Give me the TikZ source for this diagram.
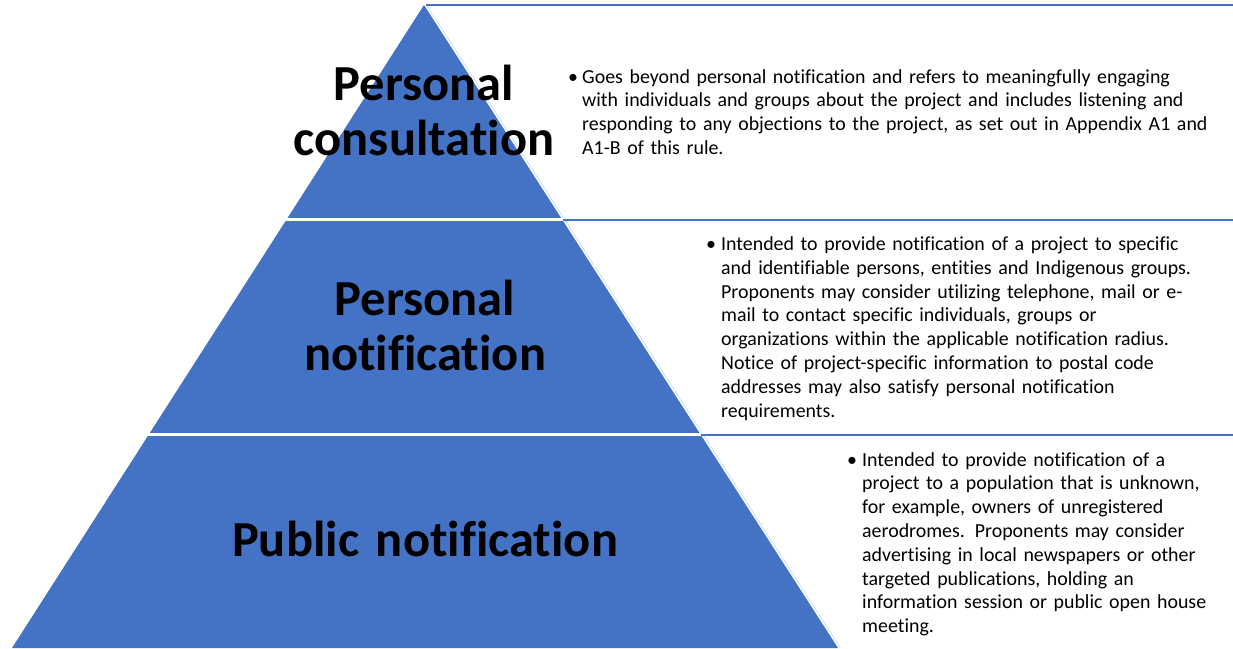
\documentclass[tikz,border=0pt]{standalone}
\usepackage{fontspec}
\setmainfont{Carlito}[Ligatures=NoCommon]
\definecolor{pyrblue}{HTML}{4472C4}
\begin{document}
\begin{tikzpicture}[x=1pt, y=-1pt, line join=round,
	level/.style={font=\fontsize{50.5}{55}\selectfont\bfseries, text width=440pt, align=center, anchor=base, inner sep=0},
	note/.style={font=\fontsize{19.9}{23.8}\selectfont, text width=700pt, align=left, anchor=base west, inner sep=0},
	dot/.style={font=\fontsize{19.9}{23.8}\selectfont, anchor=base, inner sep=0}]
	\useasboundingbox (0,0) rectangle (1233,648);
	\coordinate (top) at (424,5);
	\coordinate (bl) at (12,648);
	\coordinate (br) at (838,648);
	\fill[pyrblue] (top) -- (bl) -- (br) -- cycle;
	\draw[pyrblue!30, line width=0.6pt] ([xshift=2.5pt]top) -- ([xshift=2.5pt]br);
	% cuts between the three levels
	\draw[white, line width=2.5pt] (0,219.5) -- (700,219.5) (0,434.5) -- (840,434.5);
	% rules to the right
	\coordinate (r0) at (426,5);   \coordinate (e0) at (1233,5);
	\coordinate (r1) at (563,220); \coordinate (e1) at (1233,220);
	\coordinate (r2) at (701,435); \coordinate (e2) at (1233,435);
	\draw[pyrblue, line width=2pt] (r0) -- (e0);
	\draw[pyrblue, line width=2.5pt] (r1) -- (e1) (r2) -- (e2);
	% levels
	\node[level] (consult) at (424,100) {Personal\\consultation};
	\node[level] (pnotif) at (425,315.5) {Personal\\notification};
	\node[level] (pubnotif) at (425,556.5) {Public notification};
	% notes
	\node[dot] (d1) at (573,83) {\textbullet};
	\node[note] (n1) at (582,83) {Goes beyond personal notification and refers to meaningfully engaging\\
		with individuals and groups about the project and includes listening and\\
		responding to any objections to the project, as set out in Appendix A1 and\\
		A1-B of this rule.};
	\node[dot] (d2) at (711,250.5) {\textbullet};
	\node[note] (n2) at (721,250.5) {Intended to provide notification of a project to specific\\
		and identifiable persons, entities and Indigenous groups.\\
		Proponents may consider utilizing telephone, mail or e-\\
		mail to contact specific individuals, groups or\\
		organizations within the applicable notification radius.\\
		Notice of project-specific information to postal code\\
		addresses may also satisfy personal notification\\
		requirements.};
	\node[dot] (d3) at (852,466) {\textbullet};
	\node[note] (n3) at (862,466) {Intended to provide notification of a\\
		project to a population that is unknown,\\
		for example, owners of unregistered\\
		aerodromes. Proponents may consider\\
		advertising in local newspapers or other\\
		targeted publications, holding an\\
		information session or public open house\\
		meeting.};
\end{tikzpicture}
\end{document}
